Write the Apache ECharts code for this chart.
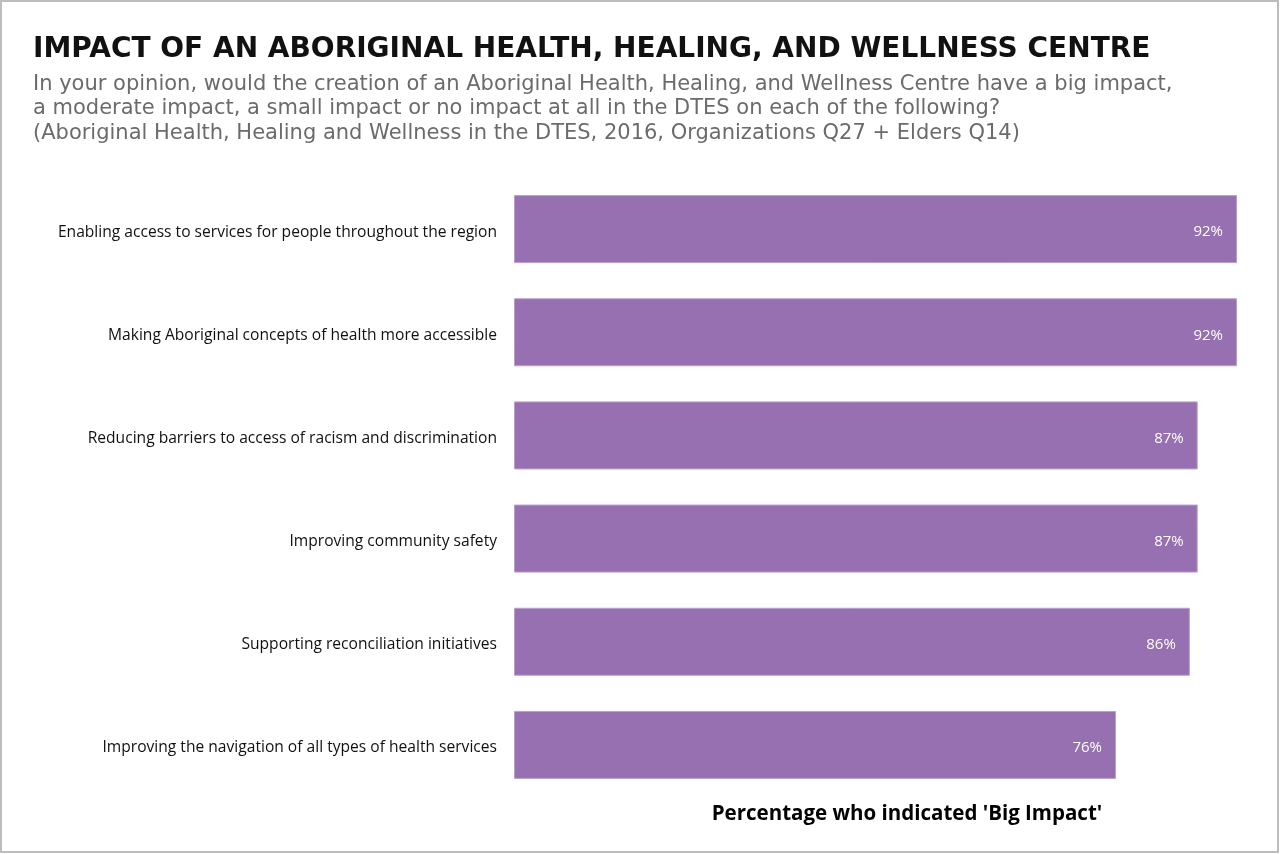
<!DOCTYPE html>
<html>
<head>
<meta charset="utf-8">
<script src="https://cdn.jsdelivr.net/npm/echarts@6/dist/echarts.min.js"></script>
<style>
html,body{margin:0;padding:0;background:#fff;}
#chart{width:1280px;height:854px;}
</style>
</head>
<body>
<div id="chart"></div>
<script>
const categories = [
  'Enabling access to services for people throughout the region',
  'Making Aboriginal concepts of health more accessible',
  'Reducing barriers to access of racism and discrimination',
  'Improving community safety',
  'Supporting reconciliation initiatives',
  'Improving the navigation of all types of health services'
];
const values = [92, 92, 87, 87, 86, 76.6];
const valueLabels = ['92%', '92%', '87%', '87%', '86%', '76%'];
const titleText = 'IMPACT OF AN ABORIGINAL HEALTH, HEALING, AND WELLNESS CENTRE';
const subtitleLines = [
  'In your opinion, would the creation of an Aboriginal Health, Healing, and Wellness Centre have a big impact,',
  'a moderate impact, a small impact or no impact at all in the DTES on each of the following?',
  '(Aboriginal Health, Healing and Wellness in the DTES, 2016, Organizations Q27 + Elders Q14)'
];
const axisTitle = "Percentage who indicated 'Big Impact'";

const chart = echarts.init(document.getElementById('chart'), null, {renderer: 'canvas'});
chart.setOption({
  animation: false,
  backgroundColor: '#ffffff',
  title: [
    {
      text: titleText, left: 28, top: 31,
      textStyle: {fontFamily: 'DejaVu Sans', fontWeight: 'bold', fontSize: 28, color: '#111111'}
    },
    {
      text: subtitleLines.join('\n'), left: 28, top: 67,
      textStyle: {fontFamily: 'DejaVu Sans', fontWeight: 'normal', fontSize: 21, lineHeight: 24.5, color: '#6b6b6b'}
    }
  ],
  graphic: [{
    type: 'rect', shape: {x: 1, y: 1, width: 1277, height: 851},
    style: {fill: 'none', stroke: '#bdbdbd', lineWidth: 2}, silent: true
  }],
  grid: {left: 514, right: 43, top: 177.5, bottom: 57.5, containLabel: false},
  xAxis: {
    type: 'value', min: 0, max: 92,
    axisLine: {show: false}, axisTick: {show: false}, axisLabel: {show: false}, splitLine: {show: false},
    name: axisTitle, nameLocation: 'middle', nameGap: 7,
    nameTextStyle: {fontFamily: 'Open Sans', fontWeight: 'bold', fontSize: 20.5, color: '#000', padding: [0, 0, 0, 63], verticalAlign: 'top'}
  },
  yAxis: {
    type: 'category', data: categories, inverse: true,
    axisLine: {show: false}, axisTick: {show: false},
    axisLabel: {margin: 17, fontFamily: 'Open Sans', fontSize: 15.6, color: '#111111', verticalAlign: 'top', lineHeight: 6}
  },
  series: [{
    type: 'bar', data: values, barWidth: 68,
    itemStyle: {color: '#9670b0', borderColor: '#b9a0cc', borderWidth: 1},
    label: {
      show: true, position: 'insideRight', distance: 14, offset: [0, 3],
      fontFamily: 'Open Sans', fontSize: 15, color: '#ffffff',
      formatter: p => valueLabels[p.dataIndex]
    }
  }]
});
</script>
</body>
</html>
